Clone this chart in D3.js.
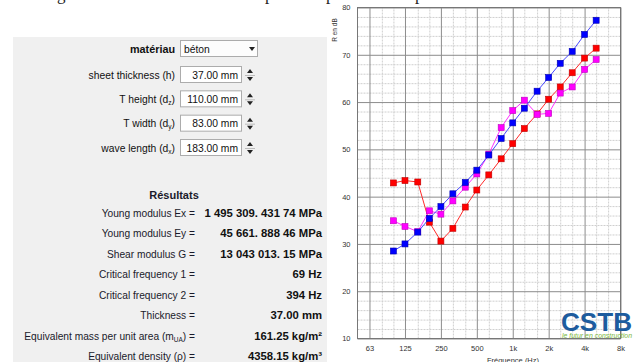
<!DOCTYPE html>
<html>
<head>
<meta charset="utf-8">
<script src="https://cdn.jsdelivr.net/npm/d3@7/dist/d3.min.js"></script>
<style>
  html, body { margin: 0; padding: 0; background: #fff; }
  svg { display: block; }
  text { font-family: "Liberation Sans", Arial, sans-serif; }
</style>
</head>
<body>
<svg id="c" width="635" height="362"></svg>
<script>
// ---------------- data ----------------
const freqs = [100,125,160,200,250,315,400,500,630,800,1000,1250,1600,2000,2500,3150,4000,5000];
const seriesBlue    = [28.5,30.0,32.5,35.4,37.9,40.6,43.0,45.6,48.8,52.3,55.6,58.7,62.3,65.2,68.2,70.7,74.3,77.3];
const seriesRed     = [42.9,43.4,43.1,34.6,30.6,33.3,37.8,41.4,44.6,48.0,51.2,54.4,57.5,60.6,63.2,66.2,69.3,71.4];
const seriesMagenta = [34.9,33.7,32.6,37.0,36.3,39.1,42.0,44.8,49.0,54.6,58.2,60.4,57.4,57.6,61.9,63.2,66.9,69.0];

const octaveTicks  = [63,125,250,500,1000,2000,4000,8000];
const octaveLabels = ["63","125","250","500","1k","2k","4k","8k"];
const thirdTicks   = [80,100,160,200,315,400,630,800,1250,1600,2500,3150,5000,6300];
const yMajorTicks  = [10,20,30,40,50,60,70,80];
const yMinorTicks  = [12,14,16,18,22,24,26,28,32,34,36,38,42,44,46,48,52,54,56,58,62,64,66,68,72,74,76,78];

const formLabels = ["sheet thickness (h)", "T height (d", "T width (d", "wave length (d"];
const formSubs   = ["", "z", "y", "x"];
const formValues = ["37.00 mm", "110.00 mm", "83.00 mm", "183.00 mm"];
const materialLabel = "matériau";
const materialValue = "béton";

const resultLabels = ["Young modulus Ex =", "Young modulus Ey =", "Shear modulus G =",
  "Critical frequency 1 =", "Critical frequency 2 =", "Thickness =",
  "Equivalent mass per unit area (m|UA|) =", "Equivalent density (ρ) ="];
const resultValues = ["1 495 309. 431 74 MPa", "45 661. 888 46 MPa", "13 043 013. 15 MPa",
  "69 Hz", "394 Hz", "37.00 mm", "161.25 kg/m²", "4358.15 kg/m³"];

// ---------------- drawing ----------------
const svg = d3.select("#c");

// cut-off caption fragments at the very top
const topFrag = svg.append("g").attr("font-size", 17).attr("fill", "#222");
[["g",57],["p",265],["p",326],["p",415]].forEach(([t,xx]) => {
  topFrag.append("text").attr("x", xx).attr("y", -0.5).style("font-family","Liberation Serif, serif").text(t);
});

// left panel
svg.append("rect").attr("x", 13).attr("y", 37).attr("width", 314).attr("height", 330).attr("fill", "#f0f0f0");

const form = svg.append("g").attr("font-size", 10.3).attr("fill", "#111");

// material row
form.append("text").attr("x", 175).attr("y", 52.5).attr("text-anchor", "end")
  .attr("font-weight", "bold").attr("font-size", 10.8).text(materialLabel);
form.append("rect").attr("x", 180.5).attr("y", 40.5).attr("width", 77).attr("height", 16)
  .attr("fill", "#fdfdfd").attr("stroke", "#acacac");
form.append("text").attr("x", 184).attr("y", 52.5).text(materialValue);
form.append("path").attr("d", "M249,47 h6 l-3,4 z").attr("fill", "#222");

// spin rows
const rowY = d3.scaleLinear().domain([0, 3]).range([75, 148]);
formLabels.forEach((lab, i) => {
  const cy = rowY(i);
  const t = form.append("text").attr("x", 175).attr("y", cy + 3.7).attr("text-anchor", "end");
  t.append("tspan").text(lab);
  if (formSubs[i]) {
    t.append("tspan").attr("font-size", 6.5).attr("dy", 2).text(formSubs[i]);
    t.append("tspan").attr("dy", -2).text(")");
  }
  form.append("rect").attr("x", 180.5).attr("y", cy - 8.5).attr("width", 61).attr("height", 16)
    .attr("fill", "#fff").attr("stroke", "#acacac");
  form.append("text").attr("x", 238).attr("y", cy + 3.7).attr("text-anchor", "end").text(formValues[i]);
  // spinner
  form.append("path").attr("d", `M247,${cy-2} h6 l-3,-4 z`).attr("fill", "#222");
  form.append("path").attr("d", `M247,${cy+2} h6 l-3,4 z`).attr("fill", "#222");
  form.append("line").attr("x1", 245).attr("x2", 255).attr("y1", cy + 0.5).attr("y2", cy + 0.5)
    .attr("stroke", "#bbb");
});

// results
const res = svg.append("g").attr("font-size", 10.2).attr("fill", "#1a1a2a");
res.append("text").attr("x", 174).attr("y", 199).attr("text-anchor", "middle")
  .attr("font-weight", "bold").attr("font-size", 11).text("Résultats");
const resY = d3.scaleLinear().domain([0, 7]).range([216.5, 360]);
resultLabels.forEach((lab, i) => {
  const yy = resY(i);
  const t = res.append("text").attr("x", 195).attr("y", yy).attr("text-anchor", "end");
  const parts = lab.split("|");
  if (parts.length === 3) {
    t.append("tspan").text(parts[0]);
    t.append("tspan").attr("font-size", 6.5).attr("dy", 2).text(parts[1]);
    t.append("tspan").attr("dy", -2).text(parts[2]);
  } else {
    t.text(lab);
  }
  res.append("text").attr("x", 322).attr("y", yy).attr("text-anchor", "end")
    .attr("font-weight", "bold").attr("font-size", 11.3).attr("fill", "#111").text(resultValues[i]);
});

// ---------------- chart ----------------
const x = d3.scaleLog().domain([50, 8000]).range([357.5, 620.5]);
const y = d3.scaleLinear().domain([10, 80]).range([338.5, 7.5]);
const x0 = x.range()[0], x1 = x.range()[1], y0 = y.range()[0], y1 = y.range()[1];

svg.append("rect").attr("x", x0).attr("y", y1).attr("width", x1 - x0).attr("height", y0 - y1).attr("fill", "#fff");

// minor grid
svg.append("g").attr("transform", `translate(${x0},0)`)
  .call(d3.axisLeft(y).tickValues(yMinorTicks).tickSize(-(x1 - x0)).tickFormat(""))
  .call(g => g.select(".domain").remove())
  .call(g => g.selectAll("line").attr("stroke", "#cfcfcf").attr("stroke-dasharray", "2,1"));
svg.append("g").attr("transform", `translate(0,${y0})`)
  .call(d3.axisBottom(x).tickValues(thirdTicks).tickSize(-(y0 - y1)).tickFormat(""))
  .call(g => g.select(".domain").remove())
  .call(g => g.selectAll("line").attr("stroke", "#cfcfcf").attr("stroke-dasharray", "2,1"));

// major grid
svg.append("g").attr("transform", `translate(${x0},0)`)
  .call(d3.axisLeft(y).tickValues(yMajorTicks).tickSize(-(x1 - x0)).tickFormat(""))
  .call(g => g.select(".domain").remove())
  .call(g => g.selectAll("line").attr("stroke", "#8c8c8c"));
svg.append("g").attr("transform", `translate(0,${y0})`)
  .call(d3.axisBottom(x).tickValues(octaveTicks).tickSize(-(y0 - y1)).tickFormat(""))
  .call(g => g.select(".domain").remove())
  .call(g => g.selectAll("line").attr("stroke", "#8c8c8c"));

// border
svg.append("rect").attr("x", x0).attr("y", y1).attr("width", x1 - x0).attr("height", y0 - y1)
  .attr("fill", "none").attr("stroke", "#777");

// tick labels
svg.append("g").attr("transform", `translate(${x0},0)`)
  .call(d3.axisLeft(y).tickValues(yMajorTicks).tickSize(0).tickPadding(7))
  .call(g => g.select(".domain").remove())
  .call(g => g.selectAll("text").attr("font-size", 7.5).attr("fill", "#333")
    .style("font-family", "Liberation Sans, Arial, sans-serif"));
svg.append("g").attr("transform", `translate(0,${y0})`)
  .call(d3.axisBottom(x).tickValues(octaveTicks).tickSize(0).tickPadding(7)
    .tickFormat((d, i) => octaveLabels[i]))
  .call(g => g.select(".domain").remove())
  .call(g => g.selectAll("text").attr("font-size", 7.5).attr("fill", "#333")
    .style("font-family", "Liberation Sans, Arial, sans-serif"));

// axis titles
svg.append("text").attr("transform", "translate(337,30) rotate(-90)").attr("text-anchor", "middle")
  .attr("font-size", 6.5).attr("fill", "#333").text("R en dB");
svg.append("text").attr("x", 513).attr("y", 362.5).attr("text-anchor", "middle")
  .attr("font-size", 7.5).attr("fill", "#333").text("Fréquence (Hz)");

// series
const series = [
  { vals: seriesRed, line: "#ff2a2a", fill: "#ff0000", edge: "#c00000" },
  { vals: seriesMagenta, line: "#ff30ff", fill: "#ff00ff", edge: "#c000c0" },
  { vals: seriesBlue, line: "#4848ff", fill: "#0000ff", edge: "#0000b0" }
];
const lineGen = d3.line().x((d, i) => x(freqs[i])).y(d => y(d));
const ms = 6;
series.forEach(s => {
  svg.append("path").attr("d", lineGen(s.vals)).attr("fill", "none")
    .attr("stroke", s.line).attr("stroke-width", 1);
  svg.append("g").selectAll("rect").data(s.vals).join("rect")
    .attr("x", (d, i) => x(freqs[i]) - ms / 2).attr("y", d => y(d) - ms / 2)
    .attr("width", ms).attr("height", ms)
    .attr("fill", s.fill).attr("stroke", s.edge).attr("stroke-width", 0.6);
});

// CSTB logo
svg.append("text").attr("x", 561).attr("y", 330.5).attr("font-size", 25).attr("font-weight", "bold")
  .attr("fill", "#1d5c9e").attr("textLength", 71).attr("lengthAdjust", "spacingAndGlyphs").text("CSTB");
svg.append("text").attr("x", 562).attr("y", 338).attr("font-size", 6.5).attr("font-style", "italic")
  .attr("fill", "#7cb83e").attr("textLength", 70).attr("lengthAdjust", "spacingAndGlyphs")
  .text("le futur en construction");
</script>
</body>
</html>
